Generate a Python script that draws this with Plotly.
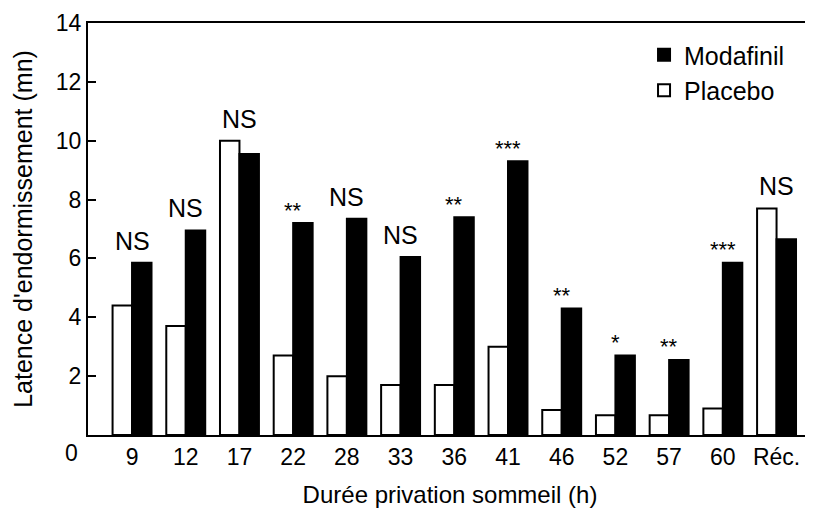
import plotly.graph_objects as go

categories = ["9", "12", "17", "22", "28", "33", "36", "41", "46", "52", "57", "60", "Réc."]
placebo = [4.4, 3.7, 10.0, 2.7, 2.0, 1.7, 1.7, 3.0, 0.85, 0.67, 0.67, 0.9, 7.7]
modafinil = [5.85, 6.95, 9.55, 7.2, 7.35, 6.05, 7.4, 9.3, 4.3, 2.7, 2.55, 5.85, 6.65]
significance = ["NS", "NS", "NS", "**", "NS", "NS", "**", "***", "**", "*", "**", "***", "NS"]
y_ticks = [2, 4, 6, 8, 10, 12, 14]

FONT = "Liberation Sans, Arial, sans-serif"

fig = go.Figure()
fig.add_trace(go.Bar(
    x=categories, y=placebo, name="Placebo",
    marker=dict(color="white", line=dict(color="black", width=2)),
))
fig.add_trace(go.Bar(
    x=categories, y=modafinil, name="Modafinil",
    marker=dict(color="black", line=dict(color="black", width=2)),
))

for i, (p, m, s) in enumerate(zip(placebo, modafinil, significance)):
    top = max(p, m)
    if s == "NS":
        fig.add_annotation(x=i, y=top, xref="x", yref="y", text=s, showarrow=False,
                           yanchor="bottom", yshift=6,
                           font=dict(family=FONT, size=25, color="black"))
    else:
        fig.add_annotation(x=i, y=top, xref="x", yref="y", text=s, showarrow=False,
                           yanchor="middle", yshift=13,
                           font=dict(family=FONT, size=22, color="black"))

# "0" label placed below the baseline like in the reference
fig.add_annotation(x=0, y=0, xref="paper", yref="y", text="0", showarrow=False,
                   xanchor="right", yanchor="middle", xshift=-8, yshift=-18,
                   font=dict(family=FONT, size=23, color="black"))

fig.update_layout(
    width=805, height=511,
    margin=dict(l=80, r=1, t=15, b=84),
    paper_bgcolor="white", plot_bgcolor="white",
    barmode="group", bargap=0.275, bargroupgap=0,
    font=dict(family=FONT, size=23, color="black"),
    legend=dict(x=0.768, y=0.978, xanchor="left", yanchor="top",
                traceorder="reversed", font=dict(family=FONT, size=25),
                bgcolor="rgba(0,0,0,0)", tracegroupgap=0, itemwidth=30),
    xaxis=dict(
        type="category",
        range=[-0.82, 12.66],
        showline=True, linecolor="black", linewidth=2, mirror=True,
        ticks="", showgrid=False, zeroline=False,
        tickfont=dict(family=FONT, size=23),
        title=dict(text="Durée privation sommeil (h)", font=dict(family=FONT, size=24), standoff=18),
    ),
    yaxis=dict(
        range=[0, 14],
        tickvals=y_ticks, ticktext=[str(v) for v in y_ticks],
        showline=True, linecolor="black", linewidth=2,
        ticks="inside", ticklen=8, tickwidth=1.5, tickcolor="black",
        showgrid=False, zeroline=False,
        tickfont=dict(family=FONT, size=23),
        title=dict(text="Latence d'endormissement (mn)", font=dict(family=FONT, size=25), standoff=16),
    ),
)

fig.write_html("out.html")
